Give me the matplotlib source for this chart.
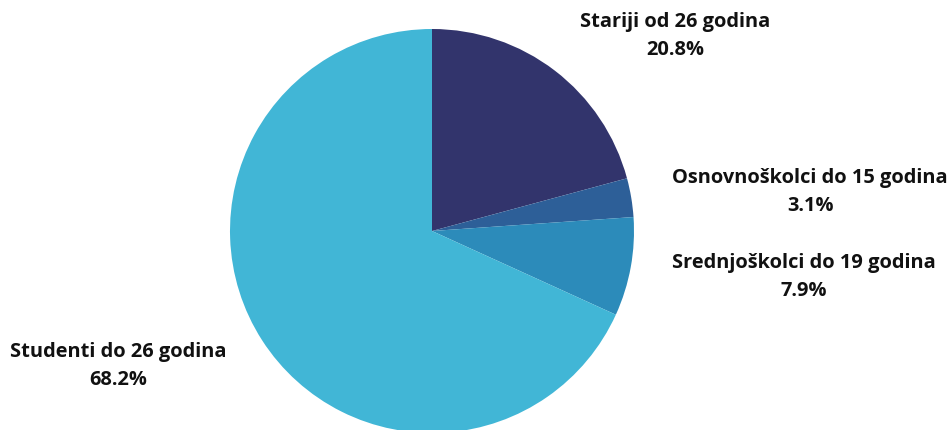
import matplotlib.pyplot as plt

plt.rcParams['font.family'] = ['Open Sans', 'DejaVu Sans']

# podaci
kategorije = ['Stariji od 26 godina', 'Osnovnoškolci do 15 godina',
              'Srednjoškolci do 19 godina', 'Studenti do 26 godina']
postoci = [20.8, 3.1, 7.9, 68.2]
boje = ['#32346c', '#2d5f98', '#2c8bba', '#41b6d6']

fig = plt.figure(figsize=(9.51, 4.30), dpi=100)
# pita: centar (432, 231) px, radijus 202 px
ax = fig.add_axes([230 / 951, -3 / 430, 404 / 951, 404 / 430])
ax.pie(postoci, colors=boje, startangle=90, counterclock=False,
       radius=1, wedgeprops={'linewidth': 0})
ax.set_xlim(-1, 1)
ax.set_ylim(-1, 1)
ax.set_aspect('equal')
ax.axis('off')

# pozicije natpisa u pikselima (centar teksta)
pozicije = [(675, 36), (810, 192), (804, 277), (118, 366)]
for kat, p, (px, py) in zip(kategorije, postoci, pozicije):
    x = (px - 432) / 202
    y = (231 - py) / 202
    ax.text(x, y, f'{kat}\n{p}%', ha='center', va='center', fontsize=14.4,
            fontweight='bold', color='#111111', linespacing=1.5,
            clip_on=False)

fig.savefig('out.png', dpi=100)
